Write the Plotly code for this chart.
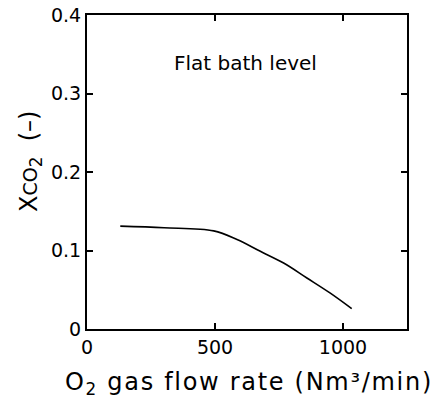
import plotly.graph_objects as go

flow_rate = [130, 301, 495, 586, 677, 768, 859, 949, 1034]
x_co2 = [0.131, 0.129, 0.125, 0.114, 0.099, 0.084, 0.065, 0.046, 0.026]
x_ticks = [0, 500, 1000]
y_ticks = [0, 0.1, 0.2, 0.3, 0.4]

FONT = "DejaVu Sans, Arial, sans-serif"

fig = go.Figure()
fig.add_trace(go.Scatter(x=flow_rate, y=x_co2, mode="lines",
                         line=dict(color="black", width=1.6, shape="spline", smoothing=1.0),
                         showlegend=False, hoverinfo="skip"))

fig.add_annotation(x=619, y=0.339, text="Flat bath level", showarrow=False,
                   font=dict(family=FONT, size=20, color="black"))

# axis titles as annotations for exact placement
fig.add_annotation(xref="paper", yref="paper", x=0.506, y=-0.172,
                   xanchor="center", yanchor="middle", showarrow=False,
                   text="<span style='letter-spacing:1.7px'>O<sub>2</sub> gas flow rate (Nm³/min)</span>",
                   font=dict(family=FONT, size=24, color="black"))
fig.add_annotation(xref="paper", yref="paper", x=-0.175, y=0.532,
                   xanchor="center", yanchor="middle", showarrow=False, textangle=-90,
                   text="X<span style='font-size:19px'>CO</span><sub>2</sub>  (–)",
                   font=dict(family=FONT, size=24, color="black"))

axis_common = dict(showline=True, linewidth=2, linecolor="black", mirror="ticks",
                   ticks="inside", ticklen=6, tickwidth=1.5, tickcolor="black",
                   showgrid=False, zeroline=False, automargin=False,
                   tickfont=dict(family=FONT, size=19, color="black"))

fig.update_xaxes(range=[0, 1250], tickvals=x_ticks, **axis_common)
fig.update_yaxes(range=[0, 0.4], tickvals=y_ticks, **axis_common)

fig.update_layout(width=438, height=403, margin=dict(l=87, r=31, t=15, b=74, autoexpand=False),
                  plot_bgcolor="white", paper_bgcolor="white")

# remove the default 8px page margin so the figure sits at the window's corner
fig.write_html("out.html", config={"displayModeBar": False},
               post_script="document.body.style.margin='0';")
